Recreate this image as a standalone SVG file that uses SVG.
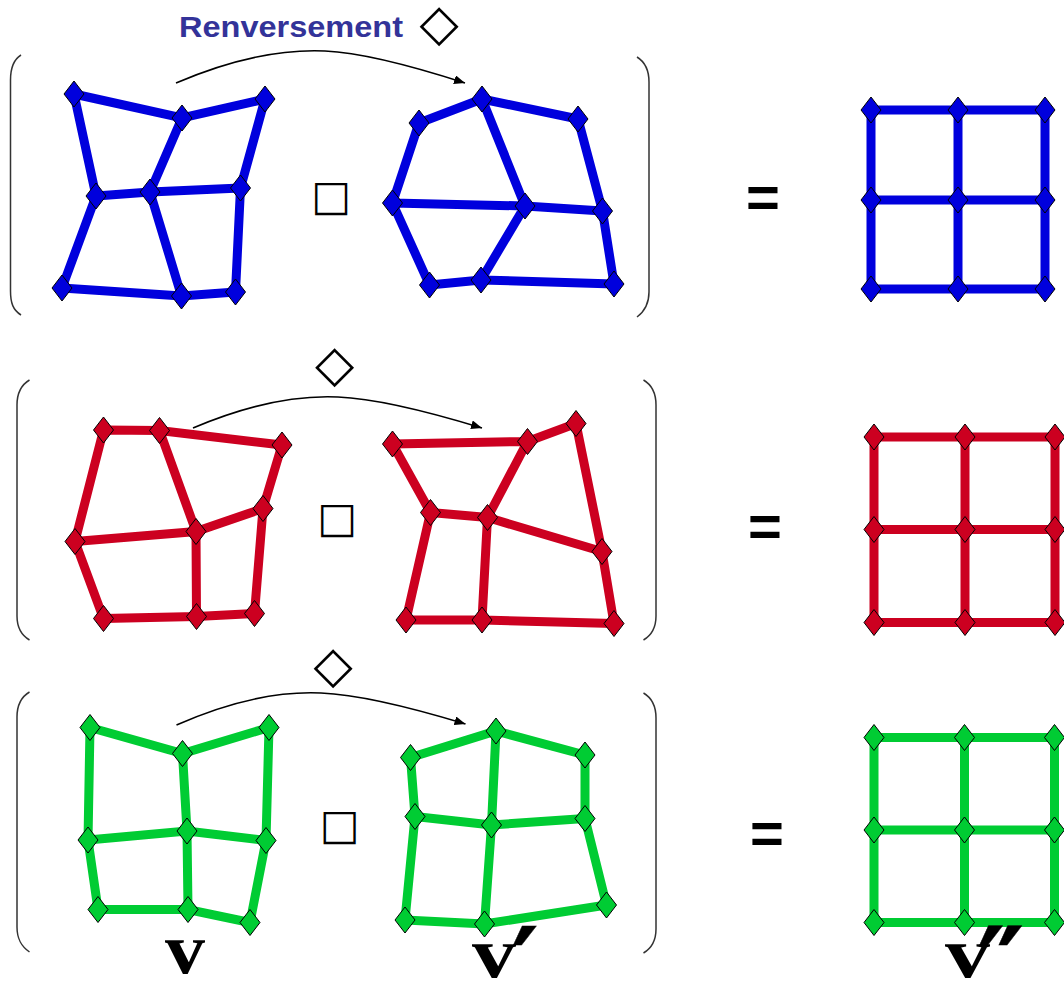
<svg xmlns="http://www.w3.org/2000/svg" xmlns:xlink="http://www.w3.org/1999/xlink" width="1064" height="982" viewBox="0 0 1064 982">
<defs>
<style>
.b{stroke:#0000dd}.r{stroke:#cc0020}.g{stroke:#00cc33}
.mesh path{fill:none;stroke-width:9}
.bd{fill:#0000dd}.rd{fill:#cc0020}.gd{fill:#00cc33}
.br{fill:none;stroke:#333;stroke-width:1.5}
.arr{fill:none;stroke:#000;stroke-width:1.6}
.sym{font-family:"DejaVu Sans",sans-serif;fill:#000}
.eq{font-family:"Liberation Sans",Arial,sans-serif;font-weight:bold;font-size:58px;text-anchor:middle;fill:#000}
.lab{font-family:"Liberation Serif","Times New Roman",serif;font-weight:bold;font-size:72px;fill:#000}
.pr{font-family:"DejaVu Sans",sans-serif;font-weight:bold;font-size:105px;text-anchor:middle;fill:#000;stroke:#000;stroke-width:0.4}
</style>
<path id="d" d="M0,-13 L10,0 L0,13 L-10,0 Z" stroke="#000" stroke-width="1"/>
<marker id="ah" viewBox="0 0 11 9" refX="11" refY="4.5" markerWidth="11" markerHeight="9" markerUnits="userSpaceOnUse" orient="auto">
<path d="M0,0 L11,4.5 L0,9 Z" fill="#000"/>
</marker>
</defs>
<rect width="1064" height="982" fill="#fff"/>

<g id="title">
<text x="179" y="37" font-family="Liberation Sans,Arial,sans-serif" font-weight="bold" font-size="29" fill="#333399" textLength="224" lengthAdjust="spacingAndGlyphs">Renversement</text>
</g>

<g id="brackets">
<path class="br" d="M21,55 C13,60 10.5,68 10.5,80 L10.5,291 C10.5,303 13,310 21,315"/>
<path class="br" d="M637,57 C645,62 649,70 649,82 L649,292 C649,304 645,311 637,317"/>
<path class="br" d="M29.5,380 C21,385 17,393 17,405 L17,616 C17,628 21,635 29.5,640"/>
<path class="br" d="M643.5,380 C652,385 656,393 656,405 L656,616 C656,628 652,635 643.5,640"/>
<path class="br" d="M29.5,692 C21,697 17,705 17,717 L17,927 C17,939 21,946 29.5,952"/>
<path class="br" d="M643.5,693 C652,698 656,706 656,718 L656,929 C656,941 652,948 643.5,953"/>
</g>

<g id="symbols">
<text class="sym" x="439" y="40" font-size="51" text-anchor="middle">◇</text>
<text class="sym" x="334.5" y="381" font-size="51" text-anchor="middle">◇</text>
<text class="sym" x="333" y="682" font-size="51" text-anchor="middle">◇</text>
<text class="sym" x="331" y="210" font-size="42" text-anchor="middle">□</text>
<text class="sym" x="337" y="532" font-size="42" text-anchor="middle">□</text>
<text class="sym" x="339.5" y="839" font-size="42" text-anchor="middle">□</text>
<text class="eq" x="763" y="217">=</text>
<text class="eq" x="765" y="546">=</text>
<text class="eq" x="767" y="853">=</text>
</g>

<g id="connectors">
<path class="arr" marker-end="url(#ah)" d="M176,83 Q258,48 325,51 Q372,53 465,83"/>
<path class="arr" marker-end="url(#ah)" d="M193,428 Q273,394 338,397 Q387,399 482,428"/>
<path class="arr" marker-end="url(#ah)" d="M176.5,725 Q256,690 321,693 Q370,695 465.5,724"/>
</g>

<!-- Top row: blue -->
<g id="mesh-v-blue" class="mesh">
<path class="b" d="M74,94 L182,118 L265,99 M96,196 L150,192 L240.5,188 M62,288 L181.5,296 L235.5,292 M74,94 L96,196 L62,288 M182,118 L150,192 L181.5,296 M265,99 L240.5,188 L235.5,292"/>
<g class="bd">
<use xlink:href="#d" x="74" y="94"/><use xlink:href="#d" x="182" y="118"/><use xlink:href="#d" x="265" y="99"/>
<use xlink:href="#d" x="96" y="196"/><use xlink:href="#d" x="150" y="192"/><use xlink:href="#d" x="240.5" y="188"/>
<use xlink:href="#d" x="62" y="288"/><use xlink:href="#d" x="181.5" y="296"/><use xlink:href="#d" x="235.5" y="292"/>
</g>
</g>
<g id="mesh-vp-blue" class="mesh">
<path class="b" d="M419,123 L482,99 L578,119 M392.5,203 L525,206 L602.5,211 M429.5,285 L481,280 L614,284 M419,123 L392.5,203 L429.5,285 M482,99 L525,206 L481,280 M578,119 L602.5,211 L614,284"/>
<g class="bd">
<use xlink:href="#d" x="419" y="123"/><use xlink:href="#d" x="482" y="99"/><use xlink:href="#d" x="578" y="119"/>
<use xlink:href="#d" x="392.5" y="203"/><use xlink:href="#d" x="525" y="206"/><use xlink:href="#d" x="602.5" y="211"/>
<use xlink:href="#d" x="429.5" y="285"/><use xlink:href="#d" x="481" y="280"/><use xlink:href="#d" x="614" y="284"/>
</g>
</g>
<g id="grid-vpp-blue" class="mesh">
<path class="b" d="M871,110 H1045 M871,200 H1045 M871,289 H1045 M871,110 V289 M958,110 V289 M1045,110 V289"/>
<g class="bd">
<use xlink:href="#d" x="871" y="110"/><use xlink:href="#d" x="958" y="110"/><use xlink:href="#d" x="1045" y="110"/>
<use xlink:href="#d" x="871" y="200"/><use xlink:href="#d" x="958" y="200"/><use xlink:href="#d" x="1045" y="200"/>
<use xlink:href="#d" x="871" y="289"/><use xlink:href="#d" x="958" y="289"/><use xlink:href="#d" x="1045" y="289"/>
</g>
</g>

<!-- Middle row: red -->
<g id="mesh-v-red" class="mesh">
<path class="r" d="M103.5,430 L159.5,430.5 L282,445 M75,541.5 L196,531.5 L263,508.5 M103.5,618.5 L196.5,616.5 L254.5,613.5 M103.5,430 L75,541.5 L103.5,618.5 M159.5,430.5 L196,531.5 L196.5,616.5 M282,445 L263,508.5 L254.5,613.5"/>
<g class="rd">
<use xlink:href="#d" x="103.5" y="430"/><use xlink:href="#d" x="159.5" y="430.5"/><use xlink:href="#d" x="282" y="445"/>
<use xlink:href="#d" x="75" y="541.5"/><use xlink:href="#d" x="196" y="531.5"/><use xlink:href="#d" x="263" y="508.5"/>
<use xlink:href="#d" x="103.5" y="618.5"/><use xlink:href="#d" x="196.5" y="616.5"/><use xlink:href="#d" x="254.5" y="613.5"/>
</g>
</g>
<g id="mesh-vp-red" class="mesh">
<path class="r" d="M392.5,444 L527.5,441.5 L576,423.5 M430.5,512.5 L487.5,517.5 L602,551.5 M406,620 L482,620 L614,623.5 M392.5,444 L430.5,512.5 L406,620 M527.5,441.5 L487.5,517.5 L482,620 M576,423.5 L602,551.5 L614,623.5"/>
<g class="rd">
<use xlink:href="#d" x="392.5" y="444"/><use xlink:href="#d" x="527.5" y="441.5"/><use xlink:href="#d" x="576" y="423.5"/>
<use xlink:href="#d" x="430.5" y="512.5"/><use xlink:href="#d" x="487.5" y="517.5"/><use xlink:href="#d" x="602" y="551.5"/>
<use xlink:href="#d" x="406" y="620"/><use xlink:href="#d" x="482" y="620"/><use xlink:href="#d" x="614" y="623.5"/>
</g>
</g>
<g id="grid-vpp-red" class="mesh">
<path class="r" d="M874,437 H1055 M874,529.5 H1055 M874,622.5 H1055 M874,437 V622.5 M965,437 V622.5 M1055,437 V622.5"/>
<g class="rd">
<use xlink:href="#d" x="874" y="437"/><use xlink:href="#d" x="965" y="437"/><use xlink:href="#d" x="1055" y="437"/>
<use xlink:href="#d" x="874" y="529.5"/><use xlink:href="#d" x="965" y="529.5"/><use xlink:href="#d" x="1055" y="529.5"/>
<use xlink:href="#d" x="874" y="622.5"/><use xlink:href="#d" x="965" y="622.5"/><use xlink:href="#d" x="1055" y="622.5"/>
</g>
</g>

<!-- Bottom row: green -->
<g id="mesh-v-green" class="mesh">
<path class="g" d="M90,727.5 L182.5,753.5 L269,727.5 M88,840 L187,831 L266,840.5 M98,909.5 L188,909.5 L250,922.5 M90,727.5 L88,840 L98,909.5 M182.5,753.5 L187,831 L188,909.5 M269,727.5 L266,840.5 L250,922.5"/>
<g class="gd">
<use xlink:href="#d" x="90" y="727.5"/><use xlink:href="#d" x="182.5" y="753.5"/><use xlink:href="#d" x="269" y="727.5"/>
<use xlink:href="#d" x="88" y="840"/><use xlink:href="#d" x="187" y="831"/><use xlink:href="#d" x="266" y="840.5"/>
<use xlink:href="#d" x="98" y="909.5"/><use xlink:href="#d" x="188" y="909.5"/><use xlink:href="#d" x="250" y="922.5"/>
</g>
</g>
<g id="mesh-vp-green" class="mesh">
<path class="g" d="M410.5,757.5 L496,731 L585,755 M415,816.5 L491.5,825 L585,818.5 M405,920 L484.5,924 L606.5,905 M410.5,757.5 L415,816.5 L405,920 M496,731 L491.5,825 L484.5,924 M585,755 L585,818.5 L606.5,905"/>
<g class="gd">
<use xlink:href="#d" x="410.5" y="757.5"/><use xlink:href="#d" x="496" y="731"/><use xlink:href="#d" x="585" y="755"/>
<use xlink:href="#d" x="415" y="816.5"/><use xlink:href="#d" x="491.5" y="825"/><use xlink:href="#d" x="585" y="818.5"/>
<use xlink:href="#d" x="405" y="920"/><use xlink:href="#d" x="484.5" y="924"/><use xlink:href="#d" x="606.5" y="905"/>
</g>
</g>
<g id="grid-vpp-green" class="mesh">
<path class="g" d="M874,737.5 H1054.5 M874,830 H1054.5 M874,922.5 H1054.5 M874,737.5 V922.5 M964.5,737.5 V922.5 M1054.5,737.5 V922.5"/>
<g class="gd">
<use xlink:href="#d" x="874" y="737.5"/><use xlink:href="#d" x="964.5" y="737.5"/><use xlink:href="#d" x="1054.5" y="737.5"/>
<use xlink:href="#d" x="874" y="830"/><use xlink:href="#d" x="964.5" y="830"/><use xlink:href="#d" x="1054.5" y="830"/>
<use xlink:href="#d" x="874" y="922.5"/><use xlink:href="#d" x="964.5" y="922.5"/><use xlink:href="#d" x="1054.5" y="922.5"/>
</g>
</g>

<g id="labels">
<text class="lab" x="165" y="973" textLength="40" lengthAdjust="spacingAndGlyphs">v</text>
<text class="lab" x="472" y="977" textLength="44" lengthAdjust="spacingAndGlyphs">v</text>
<text class="pr" x="525" y="1003">′</text>
<text class="lab" x="945" y="977" textLength="45" lengthAdjust="spacingAndGlyphs">v</text>
<text class="pr" x="1001" y="1003">″</text>
</g>
</svg>
